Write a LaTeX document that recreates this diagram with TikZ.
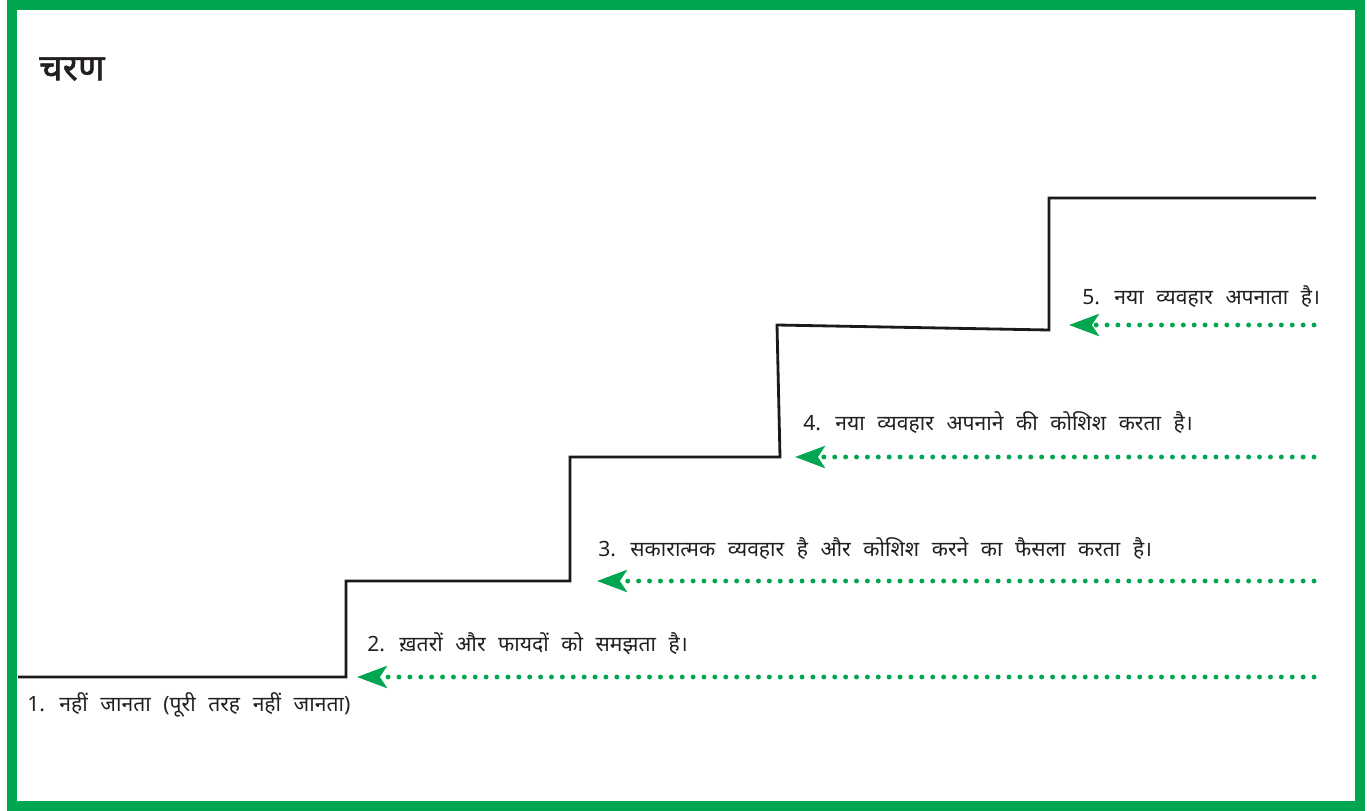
\documentclass[tikz,border=0pt]{standalone}
\usepackage{fontspec}
\usepackage{tikz}
\usetikzlibrary{arrows.meta, positioning}
\newfontfamily\hindititle[Script=Devanagari, FakeBold=1.4]{Noto Sans}
\newfontfamily\hindiwide[Script=Devanagari, WordSpace=2.3]{Noto Sans}
\definecolor{cFrame}{HTML}{00A650}
\definecolor{cText} {HTML}{231F20}
\definecolor{cStair}{HTML}{1A1A1A}
\tikzset{
  stagelabel/.style={font=\hindiwide\fontsize{12}{14}\selectfont, text=cText, anchor=west, inner sep=0pt},
  stagearrow/.style={draw=cFrame, line width=2.8pt, line cap=round,
    dash pattern=on 0pt off 6.2pt,
    -{Stealth[length=17pt, width=12.5pt, inset=4pt, fill=cFrame]}},
}
\begin{document}
\begin{tikzpicture}[x=0.02cm, y=-0.02cm]
  \useasboundingbox (0,0) rectangle (1369,811);
  % frame
  \draw[draw=cFrame, line width=5.7pt] (12,5) rectangle (1360,806);
  % title
  \node[font=\hindititle\bfseries\fontsize{21}{24}\selectfont, text=cText, anchor=west, inner sep=0pt]
    (title) at (39,69) {चरण};
  % staircase
  \draw[cStair, line width=1.6pt]
    (18,677) -- (346,677) -- (346,581) -- (570,581) -- (570,457)
    -- (780,457) -- (777,325) -- (1049,330) -- (1049,198) -- (1316,198);
  % arrows
  \foreach \i/\y/\xt in {2/677/357, 3/581/597, 4/457/795, 5/325/1069}{
    \coordinate (s\i) at (1314,\y);
    \coordinate (t\i) at (\xt,\y);
    \draw[stagearrow] (s\i) -- (t\i);
  }
  % labels
  \node[stagelabel] (lbl1) at (27,705) {1. नहीं जानता (पूरी तरह नहीं जानता)};
  \node[stagelabel] (lbl2) at (367,644) {2. ख़तरों और फायदों को समझता है।};
  \node[stagelabel] (lbl3) at (598,549) {3. सकारात्मक व्यवहार है और कोशिश करने का फैसला करता है।};
  \node[stagelabel] (lbl4) at (803,423) {4. नया व्यवहार अपनाने की कोशिश करता है।};
  \node[stagelabel] (lbl5) at (1082,297) {5. नया व्यवहार अपनाता है।};
\end{tikzpicture}
\end{document}
